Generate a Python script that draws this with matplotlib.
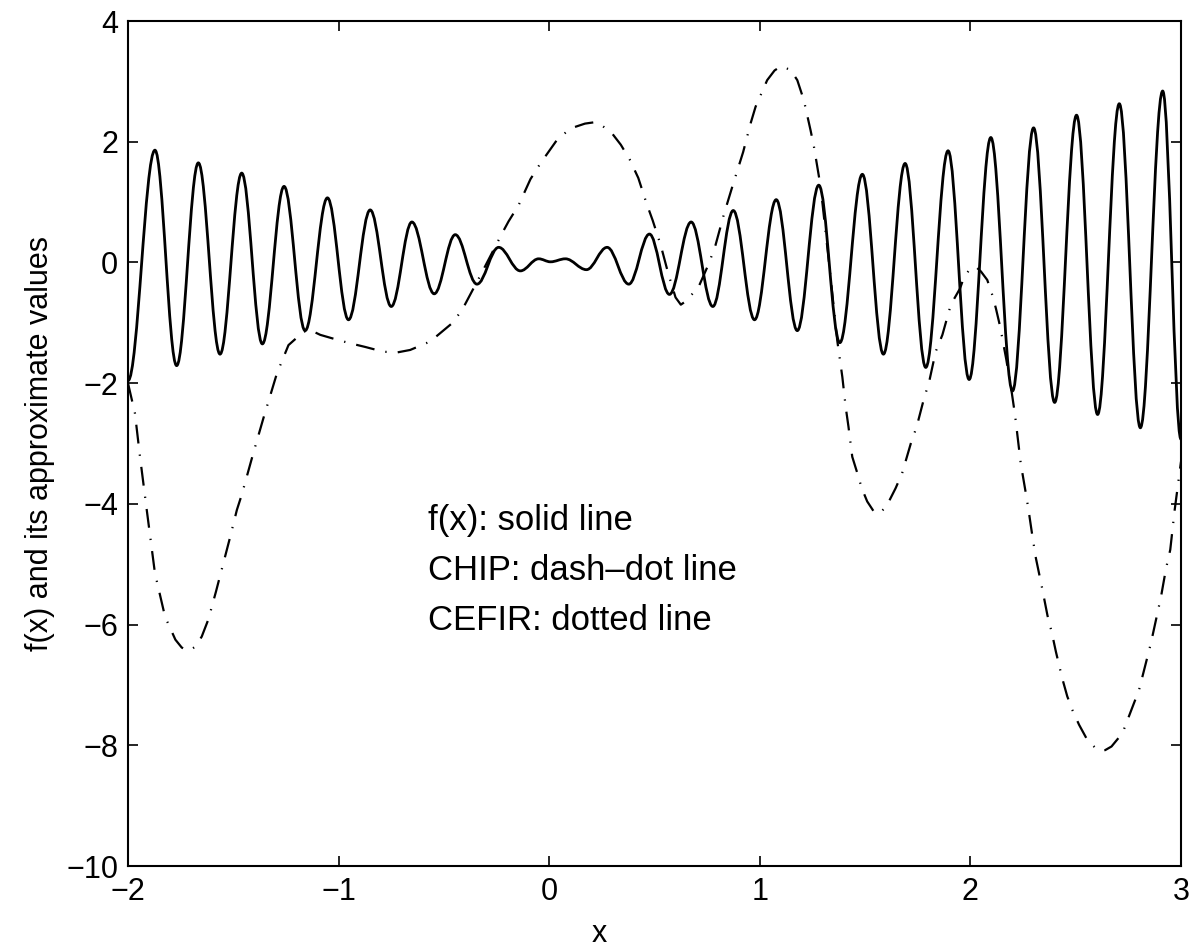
import matplotlib
matplotlib.use('Agg')
from matplotlib.path import Path
from matplotlib.patches import PathPatch
import matplotlib.pyplot as plt

# f(x): turning points of the solid curve
f_x = [-2.000, -1.872, -1.769, -1.666, -1.563, -1.460, -1.362, -1.259, -1.159, -1.053,
       -0.953, -0.850, -0.750, -0.652, -0.546, -0.446, -0.343, -0.240, -0.137, -0.050,
       0.006, 0.077, 0.177, 0.275, 0.378, 0.476, 0.571, 0.674, 0.777, 0.874,
       0.975, 1.078, 1.178, 1.280, 1.380, 1.487, 1.587, 1.690, 1.788, 1.894,
       1.994, 2.097, 2.200, 2.300, 2.400, 2.504, 2.604, 2.707, 2.807, 2.913, 3.000]
f_y = [-1.96, 1.86, -1.71, 1.65, -1.52, 1.48, -1.35, 1.26, -1.13, 1.07,
       -0.95, 0.87, -0.73, 0.67, -0.52, 0.46, -0.36, 0.25, -0.14, 0.06,
       0.01, 0.06, -0.12, 0.25, -0.36, 0.47, -0.53, 0.67, -0.73, 0.86,
       -0.95, 1.04, -1.13, 1.28, -1.33, 1.46, -1.52, 1.64, -1.74, 1.85,
       -1.94, 2.07, -2.13, 2.23, -2.32, 2.44, -2.52, 2.63, -2.74, 2.84, -2.93]

# CHIP: points along the dash-dot curve
chip_x = [-2.000, -1.967, -1.943, -1.911, -1.872, -1.824, -1.775, -1.745, -1.721, -1.700,
          -1.682, -1.650, -1.619, -1.582, -1.547, -1.515, -1.483, -1.460, -1.405, -1.357,
          -1.293, -1.238, -1.167, -1.135, -1.087, -1.008, -0.945, -0.874, -0.787, -0.720,
          -0.660, -0.565, -0.462, -0.414, -0.320, -0.224, -0.193, -0.145, -0.089, -0.042,
          0.037, 0.101, 0.170, 0.210, 0.235, 0.298, 0.340, 0.383, 0.423, 0.462,
          0.491, 0.530, 0.565, 0.600, 0.625, 0.650, 0.710, 0.758, 0.790, 0.829,
          0.869, 0.921, 0.956, 0.980, 1.035, 1.070, 1.100, 1.146, 1.178, 1.209,
          1.241, 1.257, 1.289, 1.330, 1.368, 1.392, 1.408, 1.421, 1.439, 1.463,
          1.484, 1.510, 1.540, 1.566, 1.600, 1.645, 1.676, 1.717, 1.745, 1.780,
          1.804, 1.835, 1.867, 1.907, 1.951, 1.970, 2.000, 2.025, 2.050, 2.080,
          2.104, 2.121, 2.141, 2.170, 2.197, 2.212, 2.239, 2.263, 2.276, 2.295,
          2.311, 2.339, 2.366, 2.387, 2.406, 2.436, 2.460, 2.486, 2.516, 2.555,
          2.604, 2.640, 2.670, 2.722, 2.770, 2.801, 2.833, 2.857, 2.886, 2.905,
          2.929, 2.949, 2.970, 2.985, 3.000]
chip_y = [-2.00, -2.50, -3.22, -4.10, -5.15, -5.87, -6.25, -6.38, -6.43, -6.41,
          -6.37, -6.20, -5.92, -5.45, -4.98, -4.55, -4.10, -3.85, -3.16, -2.58,
          -1.84, -1.37, -1.15, -1.12, -1.20, -1.28, -1.34, -1.40, -1.48, -1.49,
          -1.45, -1.31, -1.01, -0.79, -0.17, 0.48, 0.68, 0.95, 1.38, 1.64,
          2.03, 2.22, 2.30, 2.32, 2.31, 2.14, 1.95, 1.70, 1.40, 0.98,
          0.70, 0.28, -0.18, -0.58, -0.70, -0.64, -0.40, -0.02, 0.29, 0.79,
          1.25, 1.83, 2.30, 2.58, 3.02, 3.18, 3.25, 3.19, 3.02, 2.69,
          2.19, 1.92, 1.25, -0.05, -1.30, -1.90, -2.40, -2.72, -3.22, -3.49,
          -3.74, -3.96, -4.12, -4.16, -4.05, -3.74, -3.49, -3.00, -2.72, -2.25,
          -1.98, -1.48, -1.20, -0.70, -0.43, -0.24, -0.10, -0.07, -0.15, -0.29,
          -0.54, -0.76, -1.06, -1.60, -2.17, -2.53, -3.33, -3.82, -4.10, -4.55,
          -4.90, -5.37, -5.85, -6.14, -6.45, -6.89, -7.19, -7.43, -7.66, -7.91,
          -8.08, -8.08, -8.02, -7.80, -7.36, -7.08, -6.64, -6.31, -5.84, -5.54,
          -5.07, -4.76, -4.10, -3.70, -3.30]

x_ticks = [-2, -1, 0, 1, 2, 3]
y_ticks = [-10, -8, -6, -4, -2, 0, 2, 4]
notes = ['f(x): solid line', 'CHIP: dash\u2013dot line', 'CEFIR: dotted line']


def wave_path(xs, ys, k=0.3642):
    # smooth curve through turning points, flat tangent at each one
    verts = [(xs[0], ys[0])]
    codes = [Path.MOVETO]
    for x0, y0, x1, y1 in zip(xs[:-1], ys[:-1], xs[1:], ys[1:]):
        dx = x1 - x0
        verts += [(x0 + k * dx, y0), (x1 - k * dx, y1), (x1, y1)]
        codes += [Path.CURVE4] * 3
    return Path(verts, codes)


def main():
    plt.rcParams['font.family'] = ['Liberation Sans', 'DejaVu Sans']
    plt.rcParams['font.size'] = 22

    fig = plt.figure(figsize=(11.89, 9.49), dpi=100)
    ax = fig.add_axes([128 / 1189, 1 - 866 / 949, 1053 / 1189, 845 / 949])

    ax.add_patch(PathPatch(wave_path(f_x, f_y), fill=False, edgecolor='black',
                           linewidth=2.0, capstyle='round', joinstyle='round'))
    ax.plot(chip_x, chip_y, color='black', linewidth=1.6,
            linestyle=(0, (8.5, 5, 0.6, 5)), dash_capstyle='butt')

    # Text
    for i, note in enumerate(notes):
        ax.text(-0.575, -4.27 - 0.83 * i, note, ha='left', va='center', fontsize=25)

    # Axes
    ax.set_xlim(-2, 3)
    ax.set_ylim(-10, 4)
    ax.set_xticks(x_ticks)
    ax.set_yticks(y_ticks)
    ax.tick_params(direction='in', top=True, right=True, length=7, width=1.2,
                   labelsize=22)
    ax.tick_params(axis='x', pad=8)
    ax.tick_params(axis='y', pad=7)
    for spine in ax.spines.values():
        spine.set_linewidth(1.5)

    ax.set_xlabel('x', fontsize=22, va='center')
    ax.xaxis.set_label_coords(0.448, -0.08)
    ax.set_ylabel('f(x) and its approximate values', fontsize=22, va='center')
    ax.yaxis.set_label_coords(-0.084, 0.5)

    fig.savefig('out.png', dpi=100)


if __name__ == '__main__':
    main()
